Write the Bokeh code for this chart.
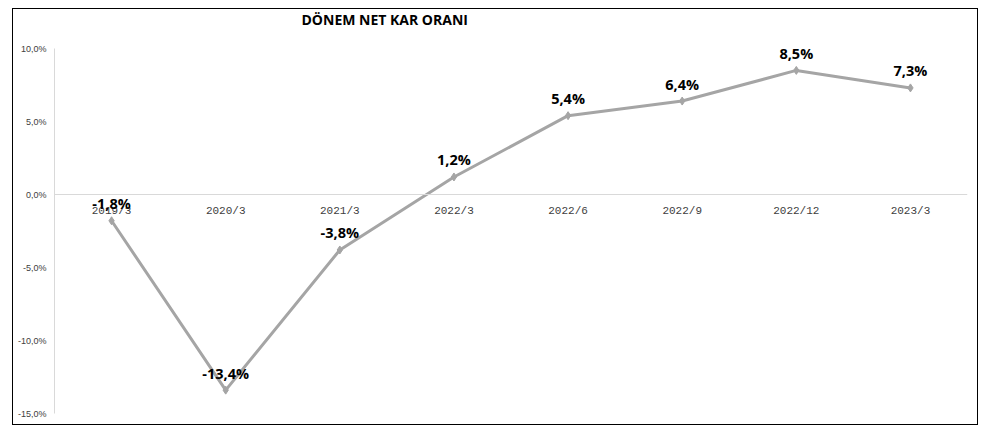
from bokeh.plotting import figure
from bokeh.models import ColumnDataSource, Span, FixedTicker, Title
from bokeh.core.properties import value
from bokeh.embed import file_html
from bokeh.resources import INLINE

title = "DÖNEM NET KAR ORANI"
periods = ["2019/3", "2020/3", "2021/3", "2022/3", "2022/6", "2022/9", "2022/12", "2023/3"]
ratios = [-1.8, -13.4, -3.8, 1.2, 5.4, 6.4, 8.5, 7.3]
y_ticks = [-15, -10, -5, 0, 5, 10]
y_tick_labels = ["-15,0%", "-10,0%", "-5,0%", "0,0%", "5,0%", "10,0%"]

labels = [("%.1f" % v).replace(".", ",") + "%" for v in ratios]
src = ColumnDataSource(dict(x=periods, y=ratios, lab=labels, zero=[0] * len(periods)))

p = figure(width=966, height=417, x_range=periods, y_range=(-15, 10),
           output_backend="svg", toolbar_location=None,
           min_border_left=41, min_border_right=12, min_border_top=39, min_border_bottom=13,
           margin=(8, 0, 0, 12), styles={"border": "1px solid #000000"})
p.outline_line_color = None
p.xgrid.grid_line_color = None
p.ygrid.grid_line_color = None
p.xaxis.visible = False

p.title.text = title
p.title.align = "left"
p.title.offset = 247
p.title.vertical_align = "top"
p.title.standoff = 0
p.title.text_font = "Open Sans"
p.title.text_font_style = "bold"
p.title.text_font_size = "14px"
p.title.text_color = "#000000"

# spacer between chart title and plot area
p.add_layout(Title(text=" ", text_font_size="1px", standoff=15), "above")

ya = p.yaxis[0]
ya.ticker = FixedTicker(ticks=y_ticks)
ya.major_label_overrides = {t: l for t, l in zip(y_ticks, y_tick_labels)}
ya.axis_line_color = "#d9d9d9"
ya.major_tick_line_color = None
ya.minor_tick_line_color = None
ya.major_tick_out = 0
ya.major_tick_in = 0
ya.minor_tick_out = 0
ya.minor_tick_in = 0
ya.major_label_standoff = 8
ya.major_label_text_font = "Liberation Sans"
ya.major_label_text_font_size = "9px"
ya.major_label_text_color = "#404040"

p.add_layout(Span(location=0, dimension="width", line_color="#d9d9d9", line_width=1))

# category labels sitting under the zero line
p.text(x="x", y="zero", text="x", source=src, y_offset=16, text_align="center",
       text_baseline="middle", text_font=value("Liberation Mono"), text_font_size="11px",
       text_color="#404040")

p.line(x="x", y="y", source=src, line_color="#a5a5a5", line_width=3)
p.scatter(x="x", y="y", source=src, marker="diamond", size=8, color="#a5a5a5")

p.text(x="x", y="y", text="lab", source=src, y_offset=-17, text_align="center",
       text_baseline="middle", text_font=value("Open Sans"), text_font_style="bold",
       text_font_size="14.5px", text_color="#000000")

open("out.html", "w").write(file_html(p, INLINE))
